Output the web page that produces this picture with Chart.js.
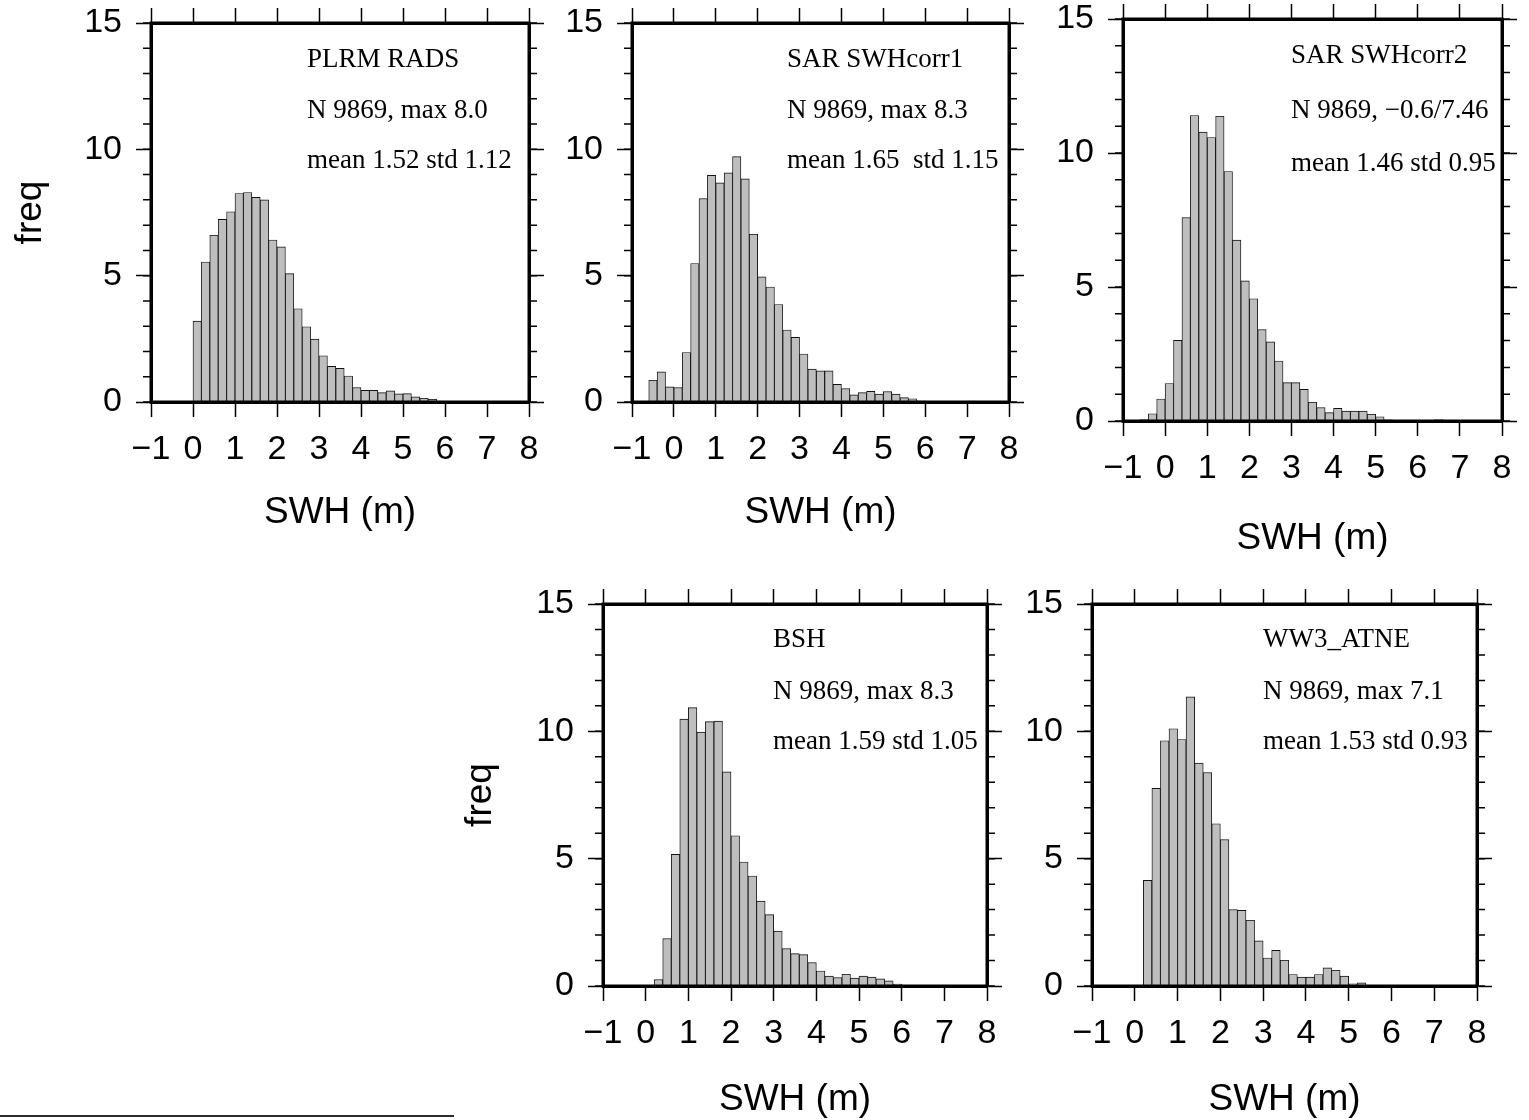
<!DOCTYPE html>
<html>
<head>
<meta charset="utf-8">
<script src="https://cdn.jsdelivr.net/npm/chart.js@4.4.1/dist/chart.umd.min.js"></script>
<style>
  html, body { margin: 0; padding: 0; background: #fff; }
  body { width: 1529px; height: 1120px; position: relative; overflow: hidden; }
  canvas { position: absolute; }
  #rule { position: absolute; left: 0; top: 1115px; width: 454px; height: 2px; background: #2b2b2b; }
</style>
</head>
<body>
<div id="rule"></div>
<script>
// Histogram bins: left edge of each 0.2 m SWH class
const binStart = [-1.0, -0.8, -0.6, -0.4, -0.2, 0.0, 0.2, 0.4, 0.6, 0.8,
                  1.0, 1.2, 1.4, 1.6, 1.8, 2.0, 2.2, 2.4, 2.6, 2.8,
                  3.0, 3.2, 3.4, 3.6, 3.8, 4.0, 4.2, 4.4, 4.6, 4.8,
                  5.0, 5.2, 5.4, 5.6, 5.8, 6.0, 6.2, 6.4, 6.6, 6.8,
                  7.0, 7.2, 7.4, 7.6, 7.8];
const binWidth = 0.2;

// Frequency (%) per bin for each SWH source
const plrmRads = [0, 0, 0, 0, 0,
  3.20, 5.54, 6.60, 7.23, 7.53, 8.25, 8.29, 8.10, 8.00, 6.41,
  6.14, 5.08, 3.69, 2.98, 2.49, 1.83, 1.41, 1.33, 1.03, 0.57,
  0.46, 0.46, 0.37, 0.44, 0.32, 0.33, 0.20, 0.15, 0.11, 0.04,
  0.03, 0.03, 0.02, 0.03, 0.02, 0.01, 0.02, 0.03, 0.02, 0.01];
const sarCorr1 = [0, 0,
  0.86, 1.19, 0.60, 0.57, 1.96, 5.48, 8.05, 8.97, 8.67, 9.07,
  9.71, 8.83, 6.64, 4.95, 4.55, 3.86, 2.85, 2.56, 1.90, 1.30,
  1.23, 1.23, 0.70, 0.53, 0.28, 0.37, 0.42, 0.31, 0.41, 0.31,
  0.17, 0.13, 0.05, 0.03, 0.02, 0.03, 0.02, 0.02, 0.04, 0.02,
  0.01, 0.01, 0.01];
const sarCorr2 = [0, 0,
  0.05, 0.27, 0.82, 1.40, 3.01, 7.59, 11.40, 10.78, 10.58, 11.37,
  9.31, 6.75, 5.23, 4.56, 3.41, 2.95, 2.24, 1.43, 1.43, 1.18,
  0.70, 0.50, 0.31, 0.47, 0.37, 0.37, 0.37, 0.25, 0.16, 0.04,
  0.02, 0.02, 0.01, 0.02, 0.02, 0.05, 0.02, 0.01, 0.01, 0.01,
  0.01, 0, 0];
const bsh = [0, 0, 0, 0, 0, 0,
  0.25, 1.86, 5.17, 10.48, 10.93, 9.97, 10.38, 10.40, 8.41, 5.90,
  4.87, 4.32, 3.33, 2.80, 2.15, 1.47, 1.27, 1.23, 0.92, 0.59,
  0.39, 0.33, 0.46, 0.31, 0.39, 0.35, 0.28, 0.20, 0.08, 0.03,
  0.02, 0.02, 0.02, 0.02, 0.01, 0.02, 0.01, 0.01, 0.01];
const ww3Atne = [0, 0, 0, 0, 0, 0,
  4.15, 7.76, 9.63, 10.10, 9.68, 11.35, 8.75, 8.38, 6.37, 5.75,
  3.00, 2.97, 2.58, 1.77, 1.10, 1.40, 1.01, 0.45, 0.35, 0.35,
  0.45, 0.71, 0.62, 0.39, 0.09, 0.12, 0.02, 0.01, 0.01, 0.01,
  0.01, 0.01, 0.02, 0.02, 0.01, 0, 0, 0, 0];

// Axis ticks
const xTicks = [-1, 0, 1, 2, 3, 4, 5, 6, 7, 8];
const yTicks = [0, 5, 10, 15];
const yMinorTicks = [0, 1, 2, 3, 4, 5, 6, 7, 8, 9, 10, 11, 12, 13, 14, 15];

// Panel annotations
const panelNames = ['PLRM RADS', 'SAR SWHcorr1', 'SAR SWHcorr2', 'BSH', 'WW3_ATNE'];
const panelRanges = ['N 9869, max 8.0', 'N 9869, max 8.3', 'N 9869, \u22120.6/7.46', 'N 9869, max 8.3', 'N 9869, max 7.1'];
const panelStats = ['mean 1.52 std 1.12', 'mean 1.65  std 1.15', 'mean 1.46 std 0.95', 'mean 1.59 std 1.05', 'mean 1.53 std 0.93'];
const panelSeries = [plrmRads, sarCorr1, sarCorr2, bsh, ww3Atne];

// Page placement of each panel (canvas box and plot frame, in page pixels)
const layout = [
  { box: [0, 0, 570, 560],      frame: [151, 23, 529, 402],  freqX: 31,  titleY: 513,  textDx: 156, textDy: [44, 95, 145] },
  { box: [540, 0, 520, 560],    frame: [632, 23, 1009, 402], freqX: null, titleY: 513, textDx: 155, textDy: [44, 95, 145] },
  { box: [1030, 0, 499, 580],   frame: [1123, 19, 1502, 421], freqX: null, titleY: 539, textDx: 168, textDy: [44, 99, 152] },
  { box: [440, 570, 590, 550],  frame: [603, 604, 987, 986], freqX: 481, titleY: 1100, textDx: 170, textDy: [43, 95, 145] },
  { box: [1000, 570, 529, 550], frame: [1092, 604, 1477, 986], freqX: null, titleY: 1100, textDx: 171, textDy: [43, 95, 145] }
];

Chart.defaults.font.family = '"Liberation Sans", Arial, Helvetica, sans-serif';
Chart.defaults.color = '#000';
Chart.defaults.animation = false;

const TICK_FONT = 34;
const TITLE_FONT = 37;
const TITLE_LH = TITLE_FONT * 1.2;

const fmtTick = v => (v < 0 ? '\u2212' + Math.abs(v) : String(v));

function fixedSize(size) {
  return scale => {
    if (scale.isHorizontal()) scale.height = size; else scale.width = size;
    scale.paddingLeft = scale.paddingRight = scale.paddingTop = scale.paddingBottom = 0;
  };
}

const frameAndTicks = {
  id: 'frameAndTicks',
  afterDraw(chart) {
    const { ctx, chartArea: a } = chart;
    const y = chart.scales.y;
    ctx.save();
    ctx.strokeStyle = '#000';
    ctx.lineWidth = 1.5;
    ctx.beginPath();
    for (const v of yMinorTicks) {
      const py = y.getPixelForValue(v);
      ctx.moveTo(a.left - 8, py); ctx.lineTo(a.left, py);
      ctx.moveTo(a.right, py); ctx.lineTo(a.right + 8, py);
    }
    ctx.stroke();
    ctx.lineWidth = 3;
    ctx.strokeRect(a.left, a.top, a.right - a.left, a.bottom - a.top);
    ctx.restore();
  }
};

const annotations = {
  id: 'annotations',
  afterDraw(chart, args, opts) {
    const { ctx, chartArea: a } = chart;
    ctx.save();
    ctx.font = '27px "Liberation Serif", "Times New Roman", serif';
    ctx.fillStyle = '#000';
    ctx.textAlign = 'left';
    ctx.textBaseline = 'alphabetic';
    opts.lines.forEach((t, k) => ctx.fillText(t, a.left + opts.dx, a.top + opts.dy[k]));
    ctx.restore();
  }
};

function makePanel(i) {
  const p = layout[i];
  const [bx, by, bw, bh] = p.box;
  const [fl, ft, fr, fb] = p.frame;
  const L = fl - bx, T = ft - by, R = bx + bw - fr, B = by + bh - fb;

  const cv = document.createElement('canvas');
  cv.width = bw; cv.height = bh;
  cv.style.left = bx + 'px'; cv.style.top = by + 'px';
  document.body.appendChild(cv);

  const values = panelSeries[i];
  const data = binStart.map((s, k) => ({ x: s + binWidth / 2, y: values[k] }));

  const tickGrid = { offset: false, drawOnChartArea: false, drawTicks: true, tickLength: 15, tickWidth: 1.5, tickColor: '#000' };
  const border = { display: true, width: 3, color: '#000', z: 1 };

  new Chart(cv, {
    type: 'bar',
    data: {
      datasets: [{
        data,
        backgroundColor: '#bebebe',
        borderColor: '#111',
        borderWidth: 0.9,
        borderSkipped: false,
        barPercentage: 1,
        categoryPercentage: 1
      }]
    },
    options: {
      responsive: false,
      devicePixelRatio: 1,
      layout: { padding: 0 },
      plugins: {
        legend: { display: false },
        tooltip: { enabled: false },
        annotations: { lines: [panelNames[i], panelRanges[i], panelStats[i]], dx: p.textDx, dy: p.textDy }
      },
      scales: {
        x: {
          type: 'linear', position: 'bottom', min: -1, max: 8, offset: false,
          afterBuildTicks: s => { s.ticks = xTicks.map(v => ({ value: v })); },
          ticks: { autoSkip: false, maxRotation: 0, minRotation: 0, padding: 12,
                   font: { size: TICK_FONT }, color: '#000', callback: v => fmtTick(v) },
          grid: tickGrid, border,
          title: { display: true, text: 'SWH (m)', color: '#000', font: { size: TITLE_FONT },
                   padding: { top: 0, bottom: fb + B - p.titleY - TITLE_LH / 2 } },
          afterFit: fixedSize(B)
        },
        xTop: {
          type: 'linear', position: 'top', min: -1, max: 8, offset: false,
          afterBuildTicks: s => { s.ticks = xTicks.map(v => ({ value: v })); },
          ticks: { display: false },
          grid: tickGrid, border,
          afterFit: fixedSize(T)
        },
        y: {
          type: 'linear', position: 'left', min: 0, max: 15,
          afterBuildTicks: s => { s.ticks = yTicks.map(v => ({ value: v })); },
          ticks: { padding: 14, font: { size: TICK_FONT }, color: '#000', callback: v => fmtTick(v) },
          grid: tickGrid, border,
          title: p.freqX === null ? { display: false } : {
            display: true, text: 'freq', color: '#000', font: { size: TITLE_FONT },
            padding: { top: p.freqX - bx - TITLE_LH / 2, bottom: 0 }
          },
          afterFit: fixedSize(L)
        },
        yRight: {
          type: 'linear', position: 'right', min: 0, max: 15,
          afterBuildTicks: s => { s.ticks = yTicks.map(v => ({ value: v })); },
          ticks: { display: false },
          grid: tickGrid, border,
          afterFit: fixedSize(R)
        }
      }
    },
    plugins: [frameAndTicks, annotations]
  });
}

for (let i = 0; i < layout.length; i++) makePanel(i);
</script>
</body>
</html>
